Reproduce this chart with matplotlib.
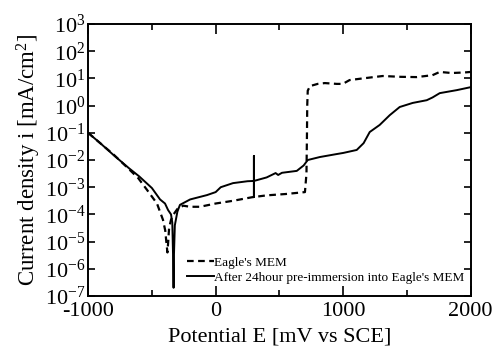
import matplotlib
matplotlib.use("Agg")
import matplotlib.pyplot as plt
import numpy as np
from matplotlib.ticker import LogLocator, MultipleLocator

plt.rcParams['font.family'] = 'serif'
plt.rcParams['font.serif'] = ['Liberation Serif', 'DejaVu Serif']
plt.rcParams['mathtext.fontset'] = 'custom'
plt.rcParams['mathtext.rm'] = 'Liberation Serif'
plt.rcParams['mathtext.it'] = 'Liberation Serif:italic'
plt.rcParams['axes.unicode_minus'] = False

# Eagle's MEM (potential mV, log10 current density)
mem_E = [-1000, -900, -800, -710, -608, -538, -460, -413, -395, -385, -378,
         -372, -365, -350, -330, -300, -255, -200, -123, 0, 136, 284, 400,
         550, 700, 712, 716, 718, 722, 740, 800, 856, 950, 997, 1050, 1150,
         1310, 1450, 1575, 1700, 1757, 1850, 1950, 2000]
mem_logi = [-1.0, -1.4, -1.8, -2.2, -2.66, -3.1, -3.6, -4.2, -4.6, -5.1, -5.4,
            -5.0, -4.5, -4.2, -4.0, -3.8, -3.68, -3.72, -3.72, -3.6, -3.5, -3.37, -3.3,
            -3.25, -3.18, -2.5, -1.0, 0.0, 0.55, 0.72, 0.8, 0.83, 0.8, 0.8, 0.94, 1.0,
            1.09, 1.06, 1.05, 1.12, 1.24, 1.2, 1.22, 1.24]

# After 24hour pre-immersion
pre_E = [-1000, -900, -800, -680, -600, -500, -436, -397, -373, -350, -340,
         -334, -330, -327, -320, -300, -280, -200, -68, 0, 40, 136, 250,
         300, 300, 300, 300, 400, 470, 490, 520, 636, 690, 722, 817, 950,
         1000, 1106, 1160, 1208, 1286, 1365, 1443, 1545, 1655, 1700, 1757,
         1890, 2000]
pre_logi = [-1.0, -1.4, -1.82, -2.3, -2.6, -3.03, -3.45, -3.6, -3.84, -4.0, -4.3,
            -5.5, -6.7, -5.5, -4.4, -3.9, -3.65, -3.45, -3.29, -3.18, -3.0, -2.85, -2.78,
            -2.77, -1.85, -3.36, -2.77, -2.64, -2.48, -2.55, -2.47, -2.4, -2.2, -2.0, -1.89, -1.78,
            -1.74, -1.63, -1.38, -0.97, -0.71, -0.35, -0.05, 0.1, 0.2, 0.3, 0.46,
            0.57, 0.68]

fig = plt.figure(figsize=(4.95, 3.49), dpi=100)
ax = fig.add_axes([0.178, 0.152, 0.773, 0.779])

ax.plot(mem_E, 10 ** np.array(mem_logi), color='black', linestyle=(0, (3, 2)),
        linewidth=1.6, label="Eagle's MEM")
ax.plot(pre_E, 10 ** np.array(pre_logi), color='black', linestyle='-',
        linewidth=1.4, label="After 24hour pre-immersion into Eagle's MEM")

ax.set_yscale('log')
ax.set_xlim(-1000, 2000)
ax.set_ylim(1e-7, 1e3)
ax.yaxis.set_major_locator(LogLocator(base=10, numticks=20))
ax.yaxis.set_minor_locator(plt.NullLocator())
ax.xaxis.set_major_locator(MultipleLocator(1000))
ax.xaxis.set_minor_locator(MultipleLocator(500))

ax.tick_params(which='both', direction='in', top=True, right=True, labelsize=16, width=1.2)
ax.tick_params(which='major', length=7)
ax.tick_params(which='minor', length=4)
ax.tick_params(axis='x', which='major', pad=4)
ax.tick_params(axis='y', which='major', length=5, pad=2)
for s in ax.spines.values():
    s.set_linewidth(1.4)

ax.set_xlabel('Potential E [mV vs SCE]', fontsize=16, labelpad=5)
ax.set_ylabel('Current density i [mA/cm$^2$]', fontsize=16.5, labelpad=1)

ax.legend(loc='lower left', bbox_to_anchor=(0.245, 0.025), fontsize=9.5,
          frameon=False, handlelength=2.0, handletextpad=0.05,
          labelspacing=0.2, borderaxespad=0.0)

fig.savefig('out.png', dpi=100)
